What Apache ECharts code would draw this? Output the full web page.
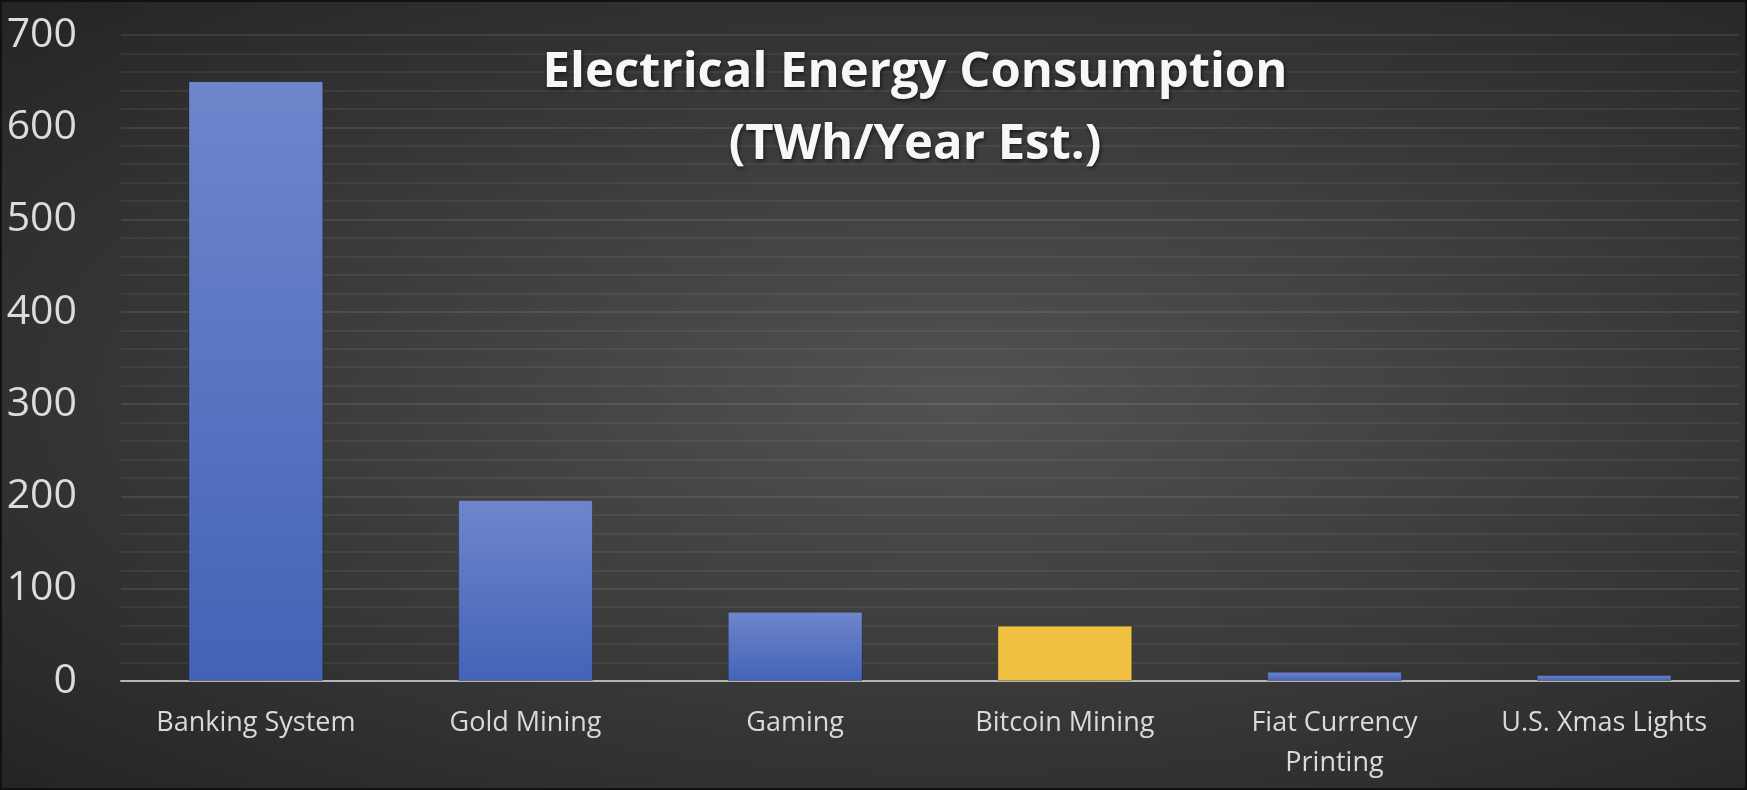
<!DOCTYPE html>
<html lang="en">
<head>
  <meta charset="UTF-8">
  <title>Electrical Energy Consumption</title>
  <script src="https://cdn.jsdelivr.net/npm/echarts@6/dist/echarts.min.js"></script>
</head>
<body>
<div id="chart"></div>
<style>
  html, body {
    margin: 0;
    width: 100%;
    height: 100%;
    overflow: hidden;
  }
  #chart {
    width: 1747px;
    height: 790px;
    box-sizing: border-box;
    border: 2px solid #111;
    background: radial-gradient(ellipse at 55% 50%, #525252 0%, #3d3d3d 45%, #242424 100%);
  }
</style>
<script>
  // values (TWh/year)
  const categories = ['Banking System', 'Gold Mining', 'Gaming', 'Bitcoin Mining', 'Fiat Currency\nPrinting', 'U.S. Xmas Lights'];
  const values = [650, 196, 75, 60, 10, 6.6];
  const highlight = 'Bitcoin Mining';

  const blue = new echarts.graphic.LinearGradient(0, 0, 0, 1, [
    { offset: 0, color: '#6f86cc' },
    { offset: 1, color: '#4363b7' }
  ]);
  const yellow = '#efc042';

  const chart = echarts.init(document.getElementById('chart'));
  chart.setOption({
    animation: false,
    title: {
      text: 'Electrical Energy Consumption\n(TWh/Year Est.)',
      left: 908,
      top: 30,
      textAlign: 'center',
      textStyle: {
        color: '#f7f7f7',
        fontFamily: 'Open Sans',
        fontWeight: 'bold',
        fontSize: 49,
        lineHeight: 72,
        textShadowColor: 'rgba(0,0,0,0.6)',
        textShadowBlur: 4,
        textShadowOffsetX: 1,
        textShadowOffsetY: 2
      }
    },
    grid: {
      left: 119,
      right: 6,
      top: 33,
      bottom: 107,
      containLabel: false
    },
    xAxis: {
      type: 'category',
      data: categories,
      axisLine: { lineStyle: { color: '#b4b4b4', width: 2 } },
      axisTick: { show: false },
      axisLabel: {
        color: '#dadada',
        fontFamily: 'Open Sans',
        fontSize: 27,
        lineHeight: 40,
        margin: 22,
        interval: 0
      }
    },
    yAxis: {
      type: 'value',
      min: 0,
      max: 700,
      interval: 100,
      axisLine: { show: false },
      axisTick: { show: false },
      axisLabel: {
        color: '#dcdcdc',
        fontFamily: 'Open Sans',
        fontSize: 41,
        margin: 44
      },
      splitLine: { lineStyle: { color: 'rgba(255,255,255,0.12)', width: 1.5 } },
      minorTick: { show: false, splitNumber: 5 },
      minorSplitLine: { show: true, lineStyle: { color: 'rgba(255,255,255,0.08)', width: 1.5 } }
    },
    series: [{
      type: 'bar',
      barWidth: '50%',
      data: values.map((v, i) => ({
        value: v,
        itemStyle: { color: categories[i] === highlight ? yellow : blue }
      })),
      itemStyle: {
        borderColor: 'rgba(0,0,0,0.25)',
        borderWidth: 1
      }
    }]
  });
</script>
</body>
</html>
